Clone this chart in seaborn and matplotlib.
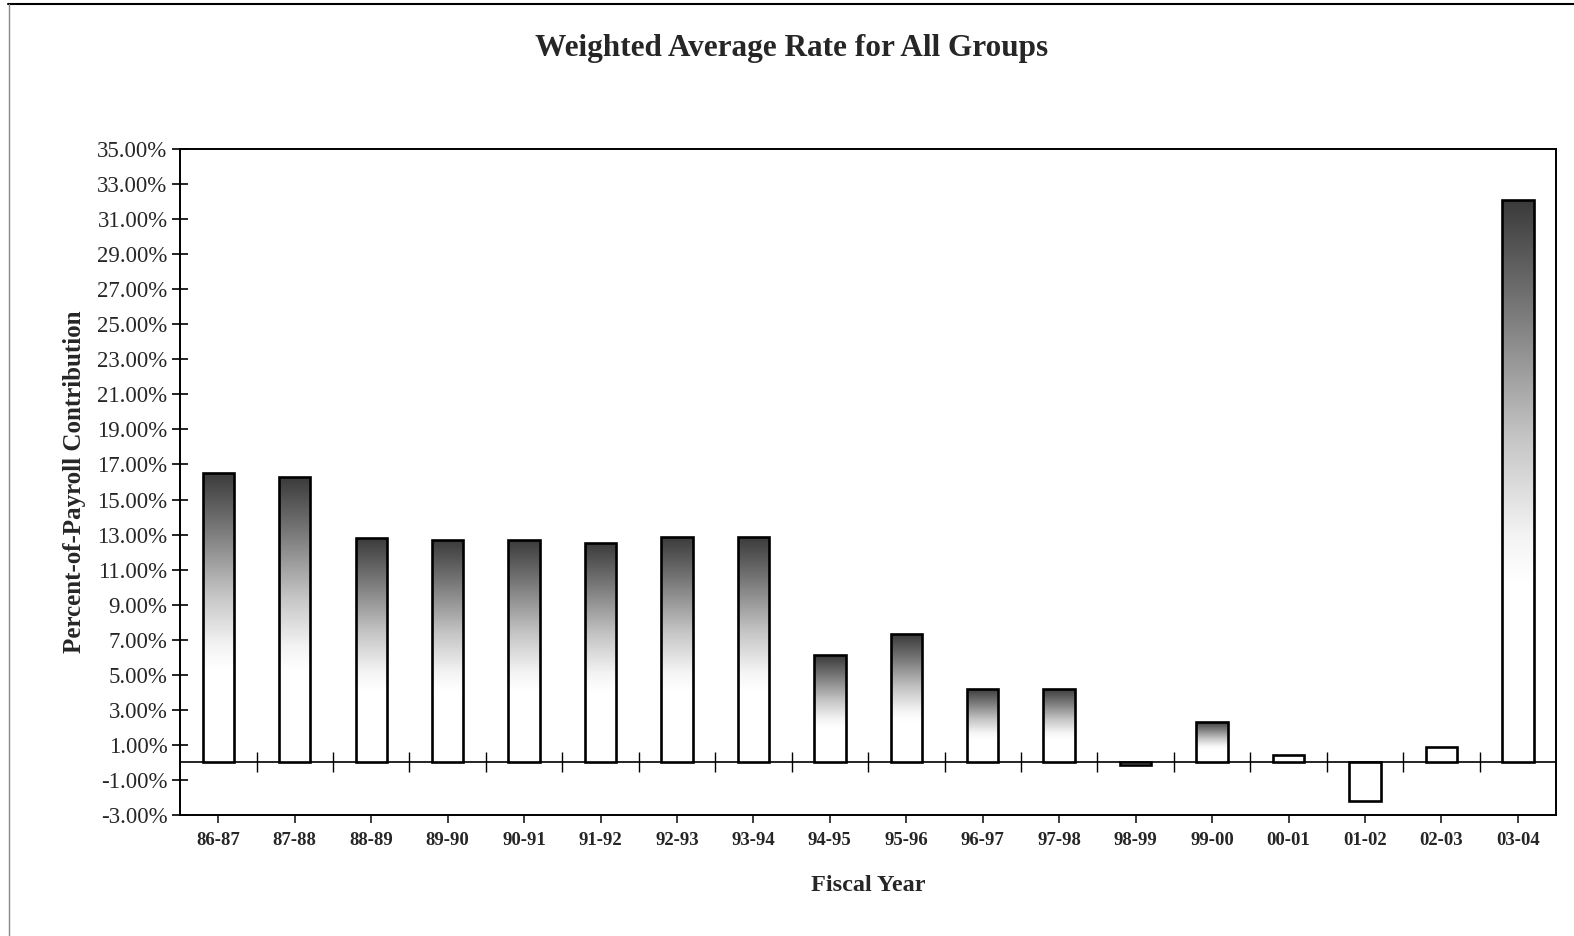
import numpy as np
import pandas as pd
import matplotlib
matplotlib.use("Agg")
import matplotlib.pyplot as plt
import seaborn as sns
from matplotlib.colors import LinearSegmentedColormap

years = ["86-87", "87-88", "88-89", "89-90", "90-91", "91-92", "92-93", "93-94",
         "94-95", "95-96", "96-97", "97-98", "98-99", "99-00", "00-01", "01-02",
         "02-03", "03-04"]
rates = [16.5, 16.3, 12.8, 12.7, 12.7, 12.5, 12.85, 12.85,
         6.1, 7.3, 4.2, 4.2, -0.12, 2.3, 0.45, -2.2,
         0.9, 32.1]
yticks = list(range(-3, 36, 2))

title = "Weighted Average Rate for All Groups"
xlabel = "Fiscal Year"
ylabel = "Percent-of-Payroll Contribution"

sns.set_theme(style="white")
plt.rcParams['font.family'] = ['Liberation Serif', 'DejaVu Serif']

df = pd.DataFrame({"year": years, "rate": rates})

fig = plt.figure(figsize=(15.74, 9.36), dpi=100)
ax = fig.add_axes([0.1144, 0.1293, 0.8742, 0.7115])

sns.barplot(data=df, x="year", y="rate", ax=ax, color="white", width=0.41,
            edgecolor="black", linewidth=1.9, saturation=1, zorder=3)

ax.set_ylim(-3, 35)
ax.set_xlim(-0.5, len(years) - 0.5)

# gradient fill inside bars
cmap = LinearSegmentedColormap.from_list(
    "g", [(0.0, "#3a3a3a"), (0.2, "#7a7a7a"), (0.42, "#c4c4c4"), (0.6, "#f4f4f4"), (0.68, "#ffffff"), (1.0, "#ffffff")])
grad = np.linspace(0, 1, 256).reshape(-1, 1)
for patch, v in zip(ax.patches, rates):
    if v < 2:
        continue
    x0 = patch.get_x()
    w = patch.get_width()
    y0 = patch.get_y()
    h = patch.get_height()
    patch.set_facecolor("none")
    im = ax.imshow(grad, cmap=cmap, aspect="auto", extent=[x0, x0 + w, y0, y0 + h],
                   origin="upper", zorder=2.9, vmin=0, vmax=1, interpolation="bilinear")
    im.set_clip_path(patch)
ax.set_xlim(-0.5, len(years) - 0.5)
ax.set_ylim(-3, 35)

# y axis
ax.set_yticks(yticks)
ax.set_yticklabels([f"{t:.2f}%" for t in yticks], fontsize=16.5)
ax.tick_params(axis="y", direction="inout", length=12, width=1.2, color="black", left=True, pad=3)
ax.tick_params(axis="x", bottom=False, labelsize=13.5, pad=6)
for lab in ax.get_xticklabels():
    lab.set_fontweight("bold")

for s in ax.spines.values():
    s.set_visible(True)
    s.set_color("black")
    s.set_linewidth(1.4)

# zero line with category-boundary ticks
ax2 = ax.twiny()
ax2.set_xlim(ax.get_xlim())
ax2.set_position(ax.get_position())
for name, s in ax2.spines.items():
    s.set_visible(name == "bottom")
ax2.spines["bottom"].set_position(("data", 0))
ax2.spines["bottom"].set_linewidth(1.2)
ax2.spines["bottom"].set_color("black")
ax2.xaxis.set_ticks_position("bottom")
ax2.set_xticks(np.arange(len(years) - 1) + 0.5)
ax2.set_xticklabels([])
ax2.tick_params(axis="x", direction="inout", length=14, width=1.0, color="black")
ax2.set_zorder(ax.get_zorder() - 1)
ax.patch.set_visible(False)

ax.set_xlabel(xlabel, fontsize=17.5, fontweight="bold", labelpad=19)
ax.set_ylabel(ylabel, fontsize=18, fontweight="bold", labelpad=8)
fig.text(0.503, 0.948, title, ha="center", va="center", fontsize=22.5, fontweight="bold")

# outer chart border (top and left)
fig.add_artist(plt.Line2D([0.005, 1.0], [0.996, 0.996], color="black", lw=1.5, transform=fig.transFigure))
fig.add_artist(plt.Line2D([0.0055, 0.0055], [0.0, 0.996], color="#888888", lw=1.0, transform=fig.transFigure))

fig.savefig("out.png", dpi=100)
